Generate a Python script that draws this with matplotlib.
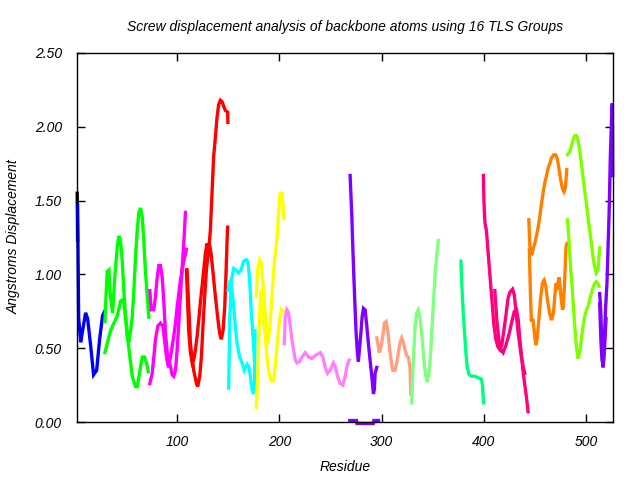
import matplotlib
matplotlib.use("Agg")
import matplotlib.pyplot as plt

# ---------------- data (residue, screw displacement in Angstroms) ----------------
black_res = [2.5, 2.7, 2.9]
black_val = [1.55, 1.40, 1.23]

blue_res = [2.9, 3.9, 5.9, 7.8, 10.7, 12.7, 15.6, 18.5, 21.5, 24.4, 27.3, 29.3]
blue_val = [1.47, 0.71, 0.54, 0.62, 0.74, 0.70, 0.52, 0.32, 0.35, 0.56, 0.72, 0.75]

green_res_1 = [29.6, 30.9, 31.9, 33.5, 34.5, 35.8, 37.1, 38.4, 40.0, 41.7, 43.2, 44.9, 46.6, 48.1, 49.8,
               51.4, 53.0, 54.7, 56.3, 57.9, 59.5, 61.2, 62.8, 64.4, 66.1, 67.6, 69.3, 71.0, 72.5]
green_val_1 = [0.68, 0.89, 1.02, 1.03, 0.89, 0.81, 0.74, 0.89, 1.05, 1.19, 1.26, 1.23, 1.08, 0.89, 0.71,
               0.58, 0.54, 0.62, 0.71, 0.89, 1.12, 1.30, 1.42, 1.45, 1.39, 1.23, 1.01, 0.85, 0.71]
green_res_2 = [29.6, 35.1, 38.4, 41.7, 44.9, 47.5, 49.8, 52.0, 54.0, 56.3, 59.5, 61.2, 63.4, 66.1, 68.3, 70.3, 71.9]
green_val_2 = [0.47, 0.62, 0.67, 0.72, 0.82, 0.83, 0.71, 0.56, 0.44, 0.31, 0.24, 0.24, 0.33, 0.44, 0.44, 0.40, 0.34]

magenta_res_1 = [73.5, 74.9, 77.4, 79.0, 80.7, 82.3, 83.9, 85.6, 87.2, 88.8, 90.5, 93.0, 95.3, 96.9, 98.6,
                 100.2, 101.8, 103.4, 105.1, 106.7, 108.3]
magenta_val_1 = [0.89, 0.76, 0.76, 0.85, 0.98, 1.06, 1.06, 0.98, 0.81, 0.60, 0.47, 0.40, 0.32, 0.31, 0.35,
                 0.49, 0.67, 0.85, 1.05, 1.21, 1.42]
magenta_res_2 = [73.5, 75.8, 77.4, 79.0, 81.3, 83.9, 86.2, 87.8, 89.8, 91.7, 93.7, 95.3, 96.9, 98.6,
                 100.2, 101.8, 103.4, 106.4, 109.3]
magenta_val_2 = [0.26, 0.33, 0.44, 0.56, 0.65, 0.67, 0.65, 0.56, 0.44, 0.37, 0.44, 0.51, 0.58, 0.67,
                 0.78, 0.87, 0.96, 1.08, 1.17]

red_res_1 = [109.3, 110.6, 111.5, 113.2, 114.9, 116.4, 118.1, 119.7, 121.3, 122.9, 124.6, 126.2, 127.8,
             129.5, 131.1, 132.7, 134.4, 135.9, 137.6, 139.3, 140.8, 142.5, 144.1, 145.7, 147.4, 149.6, 149.8]
red_val_1 = [1.03, 0.78, 0.62, 0.47, 0.40, 0.42, 0.49, 0.58, 0.69, 0.81, 0.92, 1.03, 1.14,
             1.21, 1.17, 1.30, 1.57, 1.80, 1.93, 2.07, 2.15, 2.18, 2.17, 2.14, 2.11, 2.10, 2.03]
red_res_2 = [109.9, 113.2, 116.4, 119.1, 120.3, 122.3, 123.9, 125.6, 127.1, 128.8, 130.5, 131.7, 133.4,
             135.3, 137.6, 139.8, 141.8, 143.4, 145.1, 146.7, 148.0, 149.0, 149.6]
red_val_2 = [1.03, 0.53, 0.35, 0.26, 0.24, 0.31, 0.44, 0.67, 0.85, 1.03, 1.14, 1.21, 1.14,
             1.01, 0.85, 0.71, 0.60, 0.56, 0.62, 0.78, 1.01, 1.23, 1.32]

cyan_res_1 = [150.6, 151.6, 153.2, 155.5, 157.8, 160.3, 162.7, 165.2, 167.8, 169.5, 171.1, 172.4, 173.7, 175.0, 175.7]
cyan_val_1 = [0.23, 0.69, 0.96, 1.04, 1.03, 1.01, 1.03, 1.09, 1.10, 1.08, 0.96, 0.78, 0.65, 0.51, 0.42]
cyan_res_2 = [150.0, 152.2, 153.9, 155.5, 157.1, 158.8, 161.3, 163.7, 165.9, 168.5, 170.5, 171.8, 173.4, 175.0, 175.9, 176.3]
cyan_val_2 = [0.89, 0.96, 0.89, 0.78, 0.65, 0.53, 0.44, 0.40, 0.35, 0.39, 0.37, 0.31, 0.22, 0.19, 0.28, 0.62]

yellow_res_1 = [177.6, 178.9, 180.8, 182.5, 184.1, 185.7, 187.4, 189.0, 190.6, 192.2, 193.9, 195.5, 197.1,
                198.4, 199.8, 201.0, 202.7, 203.7, 204.6]
yellow_val_1 = [0.85, 1.03, 1.10, 1.08, 0.94, 0.78, 0.65, 0.53, 0.62, 0.78, 0.96, 1.10, 1.19,
                1.30, 1.46, 1.55, 1.55, 1.46, 1.38]
yellow_res_2 = [177.6, 178.9, 179.9, 180.8, 182.2, 183.5, 184.7, 186.4, 188.0, 190.0, 192.2, 194.5, 196.4,
                198.4, 200.3, 202.0, 203.6]
yellow_val_2 = [0.10, 0.28, 0.56, 0.74, 0.89, 0.83, 0.69, 0.58, 0.44, 0.33, 0.28, 0.28, 0.40,
                0.56, 0.69, 0.76, 0.75]

violet_res = [204.9, 205.9, 207.5, 209.1, 210.8, 212.4, 214.0, 215.7, 217.3, 219.9, 222.2, 225.4, 228.6,
              232.0, 235.2, 240.1, 242.7, 244.9, 247.2, 249.8, 253.0, 255.0, 257.0, 259.6, 262.2, 264.5,
              266.1, 267.7, 268.6]
violet_val = [0.53, 0.71, 0.76, 0.74, 0.65, 0.56, 0.49, 0.42, 0.40, 0.41, 0.44, 0.47, 0.44,
              0.43, 0.45, 0.47, 0.44, 0.37, 0.33, 0.35, 0.40, 0.37, 0.31, 0.26, 0.25, 0.31,
              0.37, 0.41, 0.42]

purple_res_1 = [269.3, 271.0, 272.0, 273.2, 274.2, 275.2, 276.4, 277.4, 278.4, 279.8, 281.0, 282.3, 284.0,
                285.6, 287.2, 288.8, 290.5, 292.1, 293.0, 293.7, 295.4]
purple_val_1 = [1.67, 1.39, 1.17, 0.94, 0.76, 0.60, 0.47, 0.41, 0.49, 0.60, 0.71, 0.77, 0.76,
                0.65, 0.53, 0.42, 0.31, 0.19, 0.22, 0.33, 0.37]
purple_res_2 = [269.0, 275.5, 276.0, 292.0, 292.5, 297.0]
purple_val_2 = [0.01, 0.01, -0.01, -0.01, 0.01, 0.01]

salmon_res = [295.4, 296.9, 297.9, 299.6, 301.2, 302.8, 304.5, 306.1, 307.7, 309.3, 311.0, 313.2, 314.9,
              316.5, 318.1, 319.8, 321.4, 323.0, 324.6, 326.2, 327.9, 328.6]
salmon_val = [0.57, 0.51, 0.47, 0.51, 0.58, 0.67, 0.68, 0.62, 0.51, 0.42, 0.35, 0.35, 0.40,
              0.47, 0.54, 0.57, 0.54, 0.49, 0.45, 0.44, 0.37, 0.19]

lightgreen_res = [329.5, 330.5, 331.8, 332.8, 334.4, 336.0, 337.6, 339.3, 340.9, 342.8, 344.8, 346.4,
                  348.1, 349.6, 351.3, 352.6, 353.9, 355.5]
lightgreen_val = [0.13, 0.33, 0.51, 0.65, 0.74, 0.76, 0.71, 0.60, 0.47, 0.33, 0.27, 0.33,
                  0.47, 0.67, 0.87, 1.03, 1.12, 1.23]

spring_res = [377.6, 378.6, 379.9, 381.2, 382.5, 383.8, 385.8, 388.1, 391.3, 394.5, 397.8, 398.8, 399.8]
spring_val = [1.09, 0.92, 0.74, 0.60, 0.47, 0.37, 0.32, 0.31, 0.31, 0.30, 0.29, 0.24, 0.13]

pink_res_1 = [399.6, 400.1, 401.1, 402.5, 404.0, 405.9, 407.9, 409.8, 411.8, 413.7, 415.7, 417.6, 419.6,
              421.6, 423.5, 425.5, 428.1, 429.8, 431.3, 433.3, 435.2, 437.2, 438.6, 440.1, 442.0, 443.3]
pink_val_1 = [1.67, 1.50, 1.35, 1.30, 1.17, 1.00, 0.83, 0.66, 0.56, 0.51, 0.49, 0.52, 0.62,
              0.72, 0.83, 0.88, 0.90, 0.86, 0.76, 0.62, 0.52, 0.42, 0.33, 0.25, 0.15, 0.07]
pink_res_2 = [410.8, 412.7, 414.7, 416.6, 418.9, 421.6, 424.5, 427.4, 429.8, 432.0, 433.7, 435.2, 436.9, 438.6, 440.1]
pink_val_2 = [0.89, 0.69, 0.56, 0.49, 0.47, 0.52, 0.59, 0.68, 0.75, 0.76, 0.69, 0.56, 0.44, 0.37, 0.33]

orange_res_1 = [444.0, 445.0, 446.6, 448.2, 449.8, 451.5, 453.1, 454.7, 456.4, 457.9, 459.6, 461.3, 462.8,
                464.5, 466.2, 468.4, 470.3, 472.0, 473.6, 475.2, 476.9, 478.4, 479.8, 481.1]
orange_val_1 = [1.37, 1.20, 1.13, 1.17, 1.21, 1.26, 1.32, 1.39, 1.48, 1.55, 1.62, 1.67, 1.72,
                1.75, 1.79, 1.81, 1.81, 1.78, 1.71, 1.64, 1.58, 1.56, 1.59, 1.71]
orange_res_2 = [444.5, 445.5, 446.4, 448.2, 449.8, 450.8, 452.1, 453.8, 455.4, 457.3, 458.9, 460.6, 462.2,
                464.2, 466.2, 468.1, 469.4, 470.6, 472.0, 473.6, 475.2, 476.9, 477.8, 479.2, 480.4, 481.4]
orange_val_2 = [1.17, 0.89, 0.69, 0.69, 0.58, 0.52, 0.56, 0.69, 0.83, 0.94, 0.96, 0.92, 0.83,
                0.74, 0.69, 0.74, 0.85, 0.94, 0.92, 0.98, 0.87, 0.76, 0.78, 0.98, 1.19, 1.21]

chart_res_1 = [481.7, 484.0, 485.6, 487.2, 488.9, 490.5, 492.1, 493.8, 495.4, 497.0, 498.6, 500.3, 501.9,
               503.5, 505.2, 506.7, 508.4, 510.0, 511.6, 512.3, 513.3]
chart_val_1 = [1.81, 1.83, 1.87, 1.91, 1.94, 1.94, 1.91, 1.84, 1.75, 1.66, 1.57, 1.48, 1.39,
               1.30, 1.21, 1.12, 1.05, 1.01, 1.03, 1.10, 1.18]
chart_res_2 = [481.7, 483.0, 484.0, 485.0, 486.3, 487.6, 488.9, 490.5, 492.1, 493.8, 495.4, 497.0, 498.6,
               500.3, 501.9, 503.5, 505.2, 506.7, 508.4, 510.0, 511.6, 512.6]
chart_val_2 = [1.37, 1.26, 1.14, 1.03, 0.92, 0.78, 0.65, 0.51, 0.43, 0.47, 0.56, 0.65, 0.71,
               0.76, 0.78, 0.83, 0.87, 0.91, 0.94, 0.95, 0.94, 0.92]

violet2_res_1 = [513.3, 514.3, 514.9, 515.9, 516.5, 517.2, 518.2, 519.1, 520.4, 521.4, 522.4, 523.0,
                 523.7, 524.7, 525.3, 525.7, 526.0]
violet2_val_1 = [0.87, 0.76, 0.62, 0.49, 0.37, 0.44, 0.62, 0.78, 0.94, 1.17, 1.39, 1.57,
                 1.80, 2.02, 2.14, 2.16, 1.67]
violet2_res_2 = [513.3, 514.5, 515.5, 516.8, 518.0, 519.5]
violet2_val_2 = [0.80, 0.55, 0.42, 0.38, 0.50, 0.70]

y_ticks = [0.0, 0.5, 1.0, 1.5, 2.0, 2.5]
x_ticks = [100, 200, 300, 400, 500]

curves = [
    (black_res, black_val, '#000000'),
    (blue_res, blue_val, '#0000ff'),
    (green_res_1, green_val_1, '#00ff00'), (green_res_2, green_val_2, '#00ff00'),
    (magenta_res_1, magenta_val_1, '#ff00ff'), (magenta_res_2, magenta_val_2, '#ff00ff'),
    (red_res_1, red_val_1, '#ff0000'), (red_res_2, red_val_2, '#ff0000'),
    (cyan_res_1, cyan_val_1, '#00ffff'), (cyan_res_2, cyan_val_2, '#00ffff'),
    (yellow_res_1, yellow_val_1, '#ffff00'), (yellow_res_2, yellow_val_2, '#ffff00'),
    (violet_res, violet_val, '#ff80ff'),
    (purple_res_1, purple_val_1, '#8000ff'), (purple_res_2, purple_val_2, '#8000ff'),
    (salmon_res, salmon_val, '#ffa080'),
    (lightgreen_res, lightgreen_val, '#80ff80'),
    (spring_res, spring_val, '#00ff80'),
    (pink_res_1, pink_val_1, '#ff0080'), (pink_res_2, pink_val_2, '#ff0080'),
    (orange_res_1, orange_val_1, '#ff8000'), (orange_res_2, orange_val_2, '#ff8000'),
    (chart_res_1, chart_val_1, '#80ff00'), (chart_res_2, chart_val_2, '#80ff00'),
    (violet2_res_1, violet2_val_1, '#8000ff'), (violet2_res_2, violet2_val_2, '#8000ff'),
]

plt.rcParams['font.family'] = ['Liberation Sans', 'DejaVu Sans']
fig = plt.figure(figsize=(6.4, 4.8), dpi=100)
ax = fig.add_axes([77 / 640, 1 - 422 / 480, (613 - 77) / 640, (422 - 53) / 480])

for res, val, col in curves:
    ax.plot(res, val, color=col, lw=2.4, solid_joinstyle='miter', clip_on=False)

ax.set_xlim(2.3, 526.3)
ax.set_ylim(0, 2.5)
ax.set_xticks(x_ticks)
ax.set_xticklabels([str(t) for t in x_ticks], fontstyle='italic', fontsize=10)
ax.set_yticks(y_ticks)
ax.set_yticklabels(['%.2f' % t for t in y_ticks], fontstyle='italic', fontsize=10)
ax.tick_params(direction='in', top=True, right=True, length=6, width=1, color='black')
ax.tick_params(axis='y', pad=11)
ax.tick_params(axis='x', pad=9)
for s in ax.spines.values():
    s.set_linewidth(1.0)
    s.set_zorder(5)

fig.text(345 / 640, 1 - 27 / 480, 'Screw displacement analysis of backbone atoms using 16 TLS Groups',
         ha='center', va='center', fontstyle='italic', fontsize=10)
fig.text(345 / 640, 1 - 467 / 480, 'Residue', ha='center', va='center', fontstyle='italic', fontsize=10)
fig.text(14 / 640, 1 - 237 / 480, 'Angstroms Displacement', ha='center', va='center',
         rotation=90, fontstyle='italic', fontsize=10)

fig.savefig('out.png', dpi=100)
